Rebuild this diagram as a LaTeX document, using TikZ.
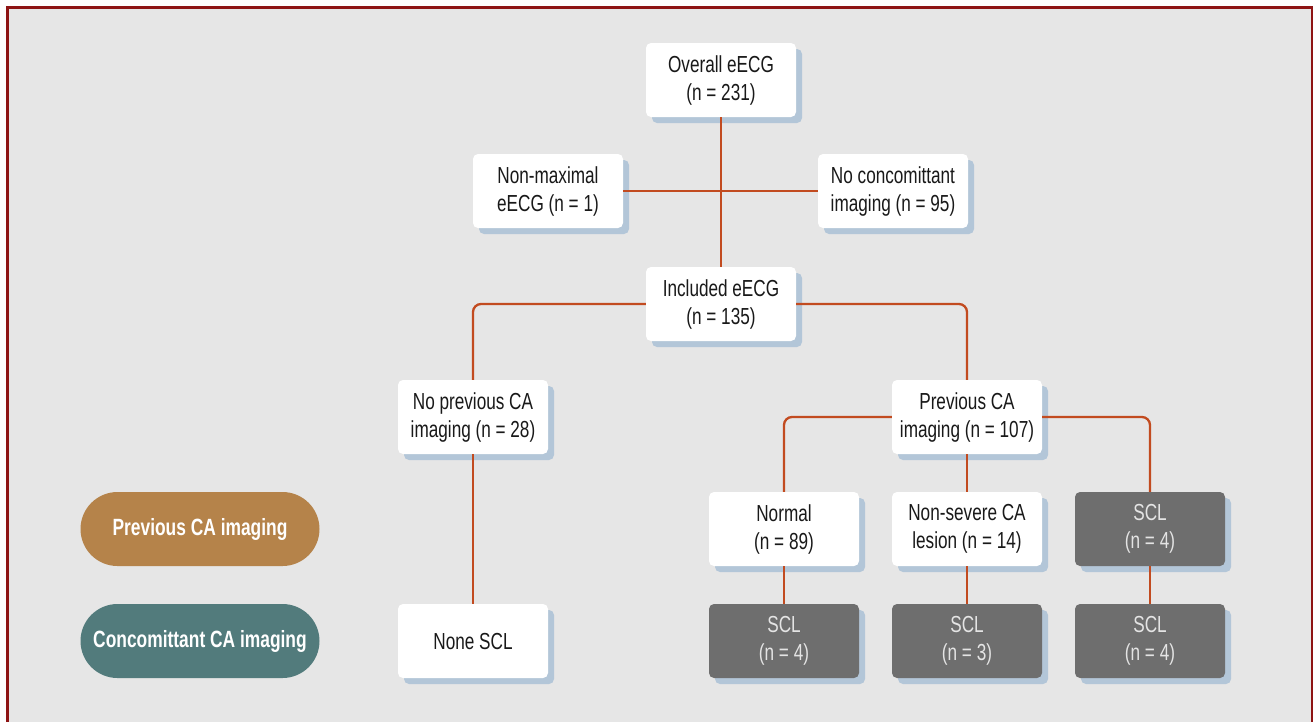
\documentclass[tikz,border=0pt]{standalone}
\usepackage{fontspec}
\setmainfont{Liberation Sans}[FakeStretch=0.74]
\usetikzlibrary{shadows}
\definecolor{bg}{HTML}{E6E6E6}
\definecolor{frame}{HTML}{8E1414}
\definecolor{shad}{HTML}{B3C6D8}
\definecolor{conn}{HTML}{C24B20}
\definecolor{darkbox}{HTML}{6E6E6E}
\definecolor{darktext}{HTML}{E4E4E4}
\definecolor{pillA}{HTML}{B5834A}
\definecolor{pillB}{HTML}{527B7C}
\tikzset{
  box/.style={rectangle, rounded corners=5pt, minimum width=150pt, minimum height=74pt,
    align=center, font=\fontsize{23.2}{28}\selectfont, text=black!90, fill=white,
    drop shadow={shadow xshift=6pt, shadow yshift=-6pt, fill=shad, opacity=1}},
  darkb/.style={box, fill=darkbox, text=darktext},
  pill/.style={rectangle, rounded corners=37pt, minimum width=239pt, minimum height=74pt,
    align=center, text=white, font=\fontsize{23.5}{27}\selectfont\bfseries},
  link/.style={draw=conn, line width=2.3pt, rounded corners=8pt}
}
\begin{document}
\begin{tikzpicture}[x=1pt,y=-1pt]
\useasboundingbox (0,0) rectangle (1313,721);
\fill[white] (0,0) rectangle (1313,721);
\begin{scope}
\clip (0,0) rectangle (1313,721);
\draw[frame, line width=2.5pt, fill=bg] (7.5,7.5) rectangle (1312,735);
\end{scope}
% nodes
\node[box] (overall) at (721,80) {Overall eECG\\(n = 231)};
\node[box] (nonmax) at (548,191) {Non-maximal\\eECG (n = 1)};
\node[box] (nocon) at (893,191) {No concomittant\\imaging (n = 95)};
\node[box] (inc) at (721,304) {Included eECG\\(n = 135)};
\node[box] (noprev) at (473,417) {No previous CA\\imaging (n = 28)};
\node[box] (prev) at (967,417) {Previous CA\\imaging (n = 107)};
\node[box] (normal) at (784,529) {Normal\\(n = 89)};
\node[box] (nonsev) at (967,529) {Non-severe CA\\lesion (n = 14)};
\node[darkb] (sclA) at (1150,529) {SCL\\(n = 4)};
\node[box] (none) at (473,641) {None SCL};
\node[darkb] (sclB) at (784,641) {SCL\\(n = 4)};
\node[darkb] (sclC) at (967,641) {SCL\\(n = 3)};
\node[darkb] (sclD) at (1150,641) {SCL\\(n = 4)};
\node[pill, fill=pillA] (pA) at (200,529) {Previous CA imaging};
\node[pill, fill=pillB] (pB) at (200,641) {Concomittant CA imaging};
% connectors
\draw[link] (overall.south) -- (inc.north);
\draw[link] (nonmax.east) -- (nocon.west);
\draw[link] (inc.west) -| (noprev.north);
\draw[link] (inc.east) -| (prev.north);
\draw[link] (noprev.south) -- (none.north);
\draw[link] (prev.west) -| (normal.north);
\draw[link] (prev.east) -| (sclA.north);
\draw[link] (prev.south) -- (nonsev.north);
\draw[link] (normal.south) -- (sclB.north);
\draw[link] (nonsev.south) -- (sclC.north);
\draw[link] (sclA.south) -- (sclD.north);
\end{tikzpicture}
\end{document}
